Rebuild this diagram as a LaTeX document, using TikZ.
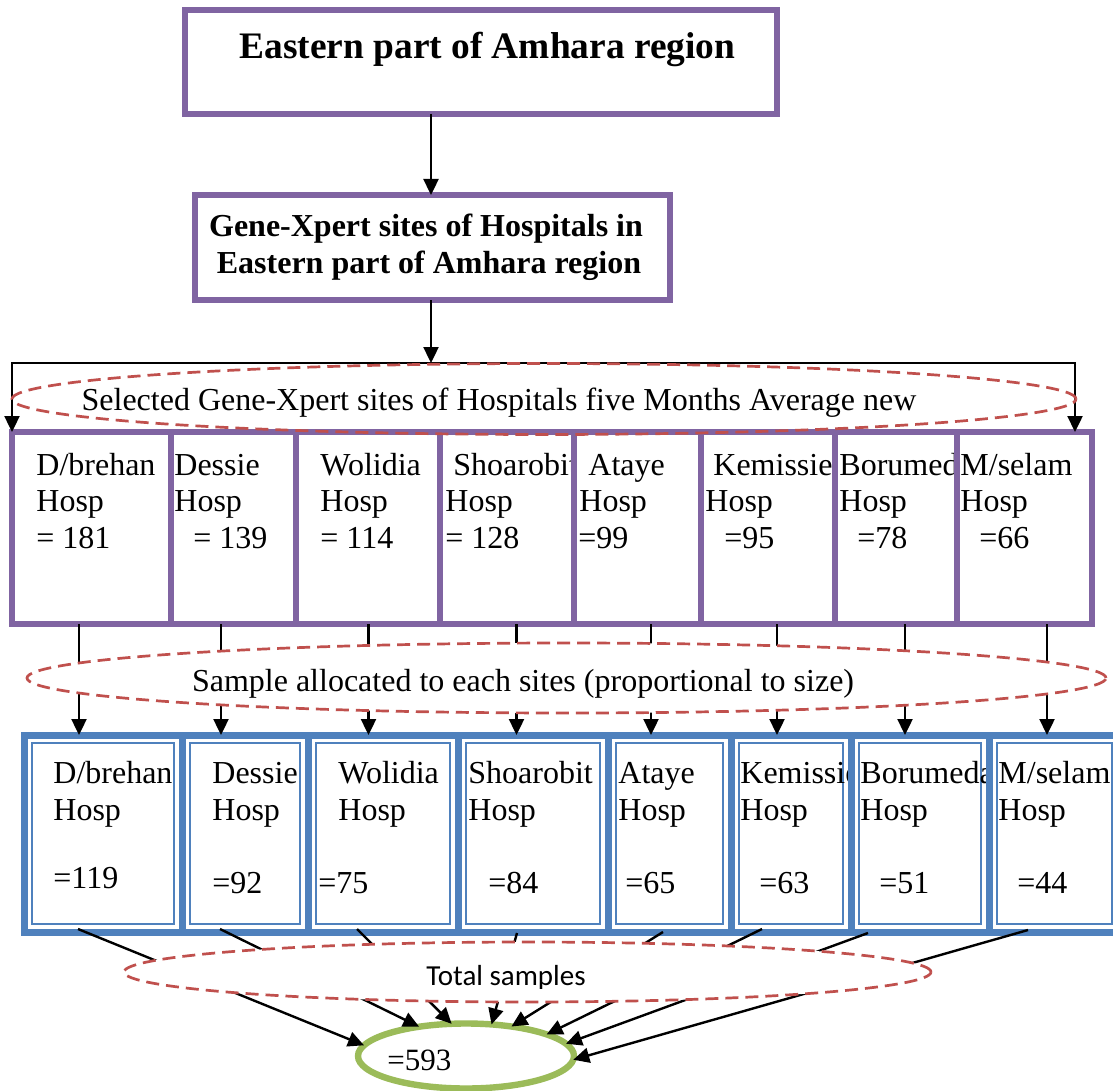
\documentclass[tikz,border=0pt]{standalone}
\usepackage{fontspec}
\setmainfont{Liberation Serif}
\newfontfamily\calibfont{Carlito}
\usetikzlibrary{shapes.geometric,arrows.meta,fit}
\definecolor{purp}{RGB}{128,100,162}
\definecolor{bblue}{RGB}{79,129,189}
\definecolor{dred}{RGB}{192,80,77}
\definecolor{lgreen}{RGB}{155,187,89}
\newcommand\bodyfs{\fontsize{16pt}{19pt}\selectfont}
\newcommand\titlefs{\fontsize{18.7pt}{22pt}\selectfont}
\begin{document}
\begin{tikzpicture}[x=0.5pt,y=-0.5pt,
  pbox/.style={draw=purp,line width=3pt,fill=white,inner sep=0pt,outer sep=0pt},
  bbox/.style={draw=bblue,line width=3.5pt,fill=white,inner sep=0pt,outer sep=0pt,
    path picture={\draw[bblue,line width=0.75pt]
      ([shift={(4pt,-4pt)}]path picture bounding box.north west) rectangle
      ([shift={(-4pt,4pt)}]path picture bounding box.south east);}},
  dell/.style={ellipse,draw=dred,line width=1.35pt,dash pattern=on 6.5pt off 3.5pt,inner sep=0pt,outer sep=0pt},
  txt/.style={anchor=base west,inner sep=0pt,font=\bodyfs},
  ctxt/.style={anchor=base,inner sep=0pt,font=\bodyfs},
  arr/.style={draw=black,line width=1.2pt,line join=miter,-{Triangle[length=8pt,width=7.5pt]}},
]
\useasboundingbox[fill=white] (0,0) rectangle (1113,1091);

% ---- top boxes
\node[pbox,fit={(185,10) (777,114)}] (tb) {};
\node[ctxt,font=\titlefs\bfseries] (tbt) at (487.5,59) {Eastern part of Amhara region};
\node[pbox,fit={(195,195) (670,300)}] (gb) {};
\node[ctxt,font=\bodyfs\bfseries] (gbt1) at (426,237) {Gene-Xpert sites of Hospitals in};
\node[ctxt,font=\bodyfs\bfseries] (gbt2) at (429,273) {Eastern part of Amhara region};

% ---- row 1
\node[pbox,fit={(12,432) (171,624)}] (r1a) {};
\node[txt] (r1a1) at (36,475) {D/brehan};
\node[txt] (r1a2) at (36,511.5) {Hosp};
\node[txt] (r1a3) at (36,548) {= 181};
\node[pbox,fit={(171,432) (296,624)}] (r1b) {};
\node[txt] (r1b1) at (174,475) {Dessie};
\node[txt] (r1b2) at (174,511.5) {Hosp};
\node[txt] (r1b3) at (193,548) {= 139};
\node[pbox,fit={(296,432) (440,624)}] (r1c) {};
\node[txt] (r1c1) at (320,475) {Wolidia};
\node[txt] (r1c2) at (320,511.5) {Hosp};
\node[txt] (r1c3) at (320,548) {= 114};
\node[pbox,fit={(440,432) (574,624)}] (r1d) {};
\node[txt] (r1d1) at (453,475) {Shoarobit};
\node[txt] (r1d2) at (445,511.5) {Hosp};
\node[txt] (r1d3) at (445,548) {= 128};
\node[pbox,fit={(574,432) (701,624)}] (r1e) {};
\node[txt] (r1e1) at (588,475) {Ataye};
\node[txt] (r1e2) at (579,511.5) {Hosp};
\node[txt] (r1e3) at (578,548) {=99};
\node[pbox,fit={(701,432) (835,624)}] (r1f) {};
\node[txt] (r1f1) at (713,475) {Kemissie};
\node[txt] (r1f2) at (705,511.5) {Hosp};
\node[txt] (r1f3) at (724,548) {=95};
\node[pbox,fit={(835,432) (957,624)}] (r1g) {};
\node[txt] (r1g1) at (839,475) {Borumed};
\node[txt] (r1g2) at (839,511.5) {Hosp};
\node[txt] (r1g3) at (857,548) {=78};
\node[pbox,fit={(957,432) (1092,624)}] (r1h) {};
\node[txt] (r1h1) at (960,475) {M/selam};
\node[txt] (r1h2) at (960,511.5) {Hosp};
\node[txt] (r1h3) at (979,548) {=66};

% ---- row 2
\node[bbox,fit={(24,735) (182,932)}] (r2a) {};
\node[txt] (r2a1) at (53,783) {D/brehan};
\node[txt] (r2a2) at (53,820) {Hosp};
\node[txt] (r2a3) at (53,888) {=119};
\node[bbox,fit={(182,735) (308,932)}] (r2b) {};
\node[txt] (r2b1) at (212,783) {Dessie};
\node[txt] (r2b2) at (212,820) {Hosp};
\node[txt] (r2b3) at (212,893) {=92};
\node[bbox,fit={(308,735) (458,932)}] (r2c) {};
\node[txt] (r2c1) at (338,783) {Wolidia};
\node[txt] (r2c2) at (338,820) {Hosp};
\node[txt] (r2c3) at (318,893) {=75};
\node[bbox,fit={(458,735) (608,932)}] (r2d) {};
\node[txt] (r2d1) at (468,783) {Shoarobit};
\node[txt] (r2d2) at (468,820) {Hosp};
\node[txt] (r2d3) at (488,893) {=84};
\node[bbox,fit={(608,735) (731,932)}] (r2e) {};
\node[txt] (r2e1) at (618,783) {Ataye};
\node[txt] (r2e2) at (618,820) {Hosp};
\node[txt] (r2e3) at (625,893) {=65};
\node[bbox,fit={(731,735) (851,932)}] (r2f) {};
\node[txt] (r2f1) at (740,783) {Kemissie};
\node[txt] (r2f2) at (740,820) {Hosp};
\node[txt] (r2f3) at (759,893) {=63};
\node[bbox,fit={(851,735) (989,932)}] (r2g) {};
\node[txt] (r2g1) at (860,783) {Borumeda};
\node[txt] (r2g2) at (860,820) {Hosp};
\node[txt] (r2g3) at (879,893) {=51};
\node[bbox,fit={(989,735) (1120,932)}] (r2h) {};
\node[txt] (r2h1) at (998,783) {M/selam};
\node[txt] (r2h2) at (998,820) {Hosp};
\node[txt] (r2h3) at (1017,893) {=44};

% ---- total ellipse
\node[ellipse,draw=lgreen,line width=3.2pt,fill=white,minimum width=108pt,minimum height=32.5pt,inner sep=0pt,outer sep=0pt] (tot) at (466,1056) {};
\node[txt,font=\fontsize{15.5pt}{17pt}\selectfont] (tott) at (387,1070) {=593};

% ---- connectors row 1 -> row 2
\coordinate (v1) at (79,0);
\coordinate (v2) at (221,0);
\coordinate (v3) at (368.5,0);
\coordinate (v4) at (516.5,0);
\coordinate (v5) at (651,0);
\coordinate (v6) at (777,0);
\coordinate (v7) at (905,0);
\coordinate (v8) at (1047,0);
\draw[arr] (r1a.south -| v1) -- (r2a.north -| v1);
\draw[arr] (r1b.south -| v2) -- (r2b.north -| v2);
\draw[arr] (r1c.south -| v3) -- (r2c.north -| v3);
\draw[arr] (r1d.south -| v4) -- (r2d.north -| v4);
\draw[arr] (r1e.south -| v5) -- (r2e.north -| v5);
\draw[arr] (r1f.south -| v6) -- (r2f.north -| v6);
\draw[arr] (r1g.south -| v7) -- (r2g.north -| v7);
\draw[arr] (r1h.south -| v8) -- (r2h.north -| v8);

% ---- connectors row 2 -> total
\coordinate (s1) at (78,929);
\coordinate (s2) at (220,929);
\coordinate (s3) at (357,929);
\coordinate (s4) at (517,933);
\coordinate (s5) at (663,932);
\coordinate (s6) at (762,929);
\coordinate (s7) at (868,933);
\coordinate (s8) at (1028,930);
\draw[arr] (s1) -- (tot.174);
\draw[arr] (s2) -- (tot.148);
\draw[arr] (s3) -- (tot.114);
\draw[arr] (s4) -- (tot.51);
\draw[arr] (s5) -- (tot.33);
\draw[arr] (s6) -- (tot.15);
\draw[arr] (s7) -- (tot.7);
\draw[arr] (s8) -- (tot.-2);

% ---- dashed ellipses covering the connectors
\node[dell,fill=white,minimum width=539.5pt,minimum height=35pt] (e2) at (566.5,678) {};
\node[ctxt] (e2t) at (523,691) {Sample allocated to each sites (proportional to size)};
\node[dell,fill=white,minimum width=403.5pt,minimum height=30pt] (e3) at (527.5,972) {};
\begin{scope}
  \clip (380,940) rectangle (660,988);
  \node[anchor=base,inner sep=0pt,font=\calibfont\fontsize{14.5pt}{16pt}\selectfont] (e3t) at (506,985) {Total samples};
\end{scope}

% ---- top connectors
\coordinate (v0) at (431,0);
\coordinate (hl) at (12,363);
\coordinate (hr) at (1075,363);
\draw[arr] (tb.south -| v0) -- (gb.north -| v0);
\draw[arr] (gb.south -| v0) -- (v0 |- hl);
\draw[arr] (v0 |- hl) -- (hl) -- (hl |- r1a.north);
\draw[arr] (v0 |- hl) -- (hr) -- (hr |- r1h.north);

% ---- first dashed ellipse
\node[dell,minimum width=532pt,minimum height=35.5pt] (e1) at (544,399) {};
\node[ctxt] (e1t) at (499,410) {Selected Gene-Xpert sites of Hospitals five Months Average new};
\end{tikzpicture}
\end{document}
